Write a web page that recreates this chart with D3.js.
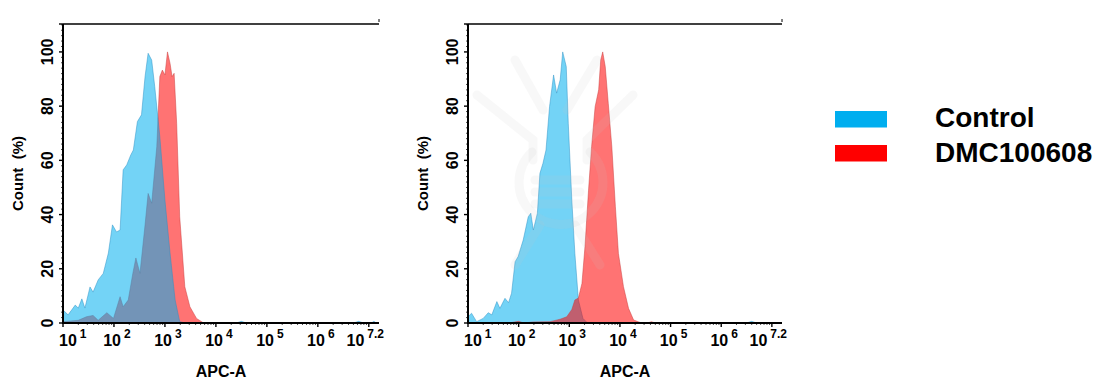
<!DOCTYPE html>
<html>

<head>
  <script src="https://d3js.org/d3.v7.min.js"></script>
  <style>
    body {
      margin: 0;
      background: #fff;
      font-family: 'Liberation Sans', Arial, sans-serif;
      font-weight: bold;
    }

    svg {
      display: block;
    }
  </style>
</head>

<body>
  <svg width="1113" height="389"></svg>
</body>
<script>

  // x values are log10(APC-A), y values are Count (%)
  var xTickExps = [1, 2, 3, 4, 5, 6, 7.2];
  var yTicks = [0, 20, 40, 60, 80, 100];
  var seriesNames = ["Control", "DMC100608"];
  var seriesColors = ["#00AEEF", "#FF0000"];

  var leftCtrlExp = [1.0, 1.1, 1.24, 1.3, 1.37, 1.43, 1.53, 1.59, 1.69, 1.79, 1.89, 1.97, 2.05, 2.12, 2.18, 2.25, 2.33, 2.38, 2.46, 2.54, 2.61, 2.67, 2.74, 2.8, 2.9, 3.0, 3.1, 3.2, 3.29, 3.4, 4.4, 4.5, 4.6, 6.7, 6.8, 6.9, 7.05, 7.1, 7.15];
  var leftCtrlPct = [4.8, 3.0, 6.6, 5.5, 8.9, 5.5, 13.3, 11.4, 15.9, 18.3, 25.8, 36.2, 33.6, 34.3, 56.5, 58.3, 62, 63.8, 74.3, 76.8, 90.9, 99.5, 97, 87.2, 68.7, 45.4, 25.8, 8.5, 0.5, 0, 0, 0.6, 0, 0, 0.6, 0, 0, 0.6, 0];

  var leftDmcExp = [1.0, 1.3, 1.46, 1.59, 1.69, 1.86, 1.99, 2.12, 2.18, 2.28, 2.37, 2.43, 2.51, 2.61, 2.67, 2.74, 2.84, 2.9, 2.95, 3.0, 3.05, 3.1, 3.14, 3.18, 3.23, 3.29, 3.39, 3.49, 3.62, 3.75];
  var leftDmcPct = [0.5, 1.0, 2.3, 2.8, 1.0, 3.8, 1.7, 9.7, 6.0, 8.5, 18.3, 24.0, 18.3, 36.2, 47.8, 44.2, 65, 90.9, 93.3, 91.5, 100, 95.8, 90.9, 92.1, 73.7, 39.2, 13.4, 6.0, 1.7, 0.1];

  var rightCtrlExp = [1.0, 1.07, 1.17, 1.3, 1.4, 1.47, 1.57, 1.63, 1.73, 1.8, 1.86, 1.93, 1.99, 2.09, 2.19, 2.24, 2.29, 2.37, 2.42, 2.48, 2.54, 2.61, 2.69, 2.75, 2.82, 2.87, 2.94, 2.98, 3.05, 3.11, 3.18, 3.27, 3.35, 6.5, 6.6, 6.7];
  var rightCtrlPct = [2.3, 3.6, 0.5, 1.7, 3.8, 3.0, 7.9, 5.4, 9.1, 7.5, 11.0, 22.6, 24.5, 30.6, 39.2, 40.5, 34.3, 40.5, 55.2, 58.9, 63.8, 79.8, 91.5, 84.8, 89.7, 100, 94.6, 73.7, 45.4, 25.7, 8.5, 1.7, 0.2, 0, 0.6, 0];

  var rightDmcExp = [1.8, 2.0, 2.1, 2.3, 2.62, 2.82, 2.95, 3.05, 3.11, 3.18, 3.25, 3.31, 3.38, 3.44, 3.51, 3.58, 3.62, 3.66, 3.71, 3.77, 3.84, 3.91, 3.97, 4.07, 4.17, 4.27, 4.4, 4.55, 4.62, 4.7];
  var rightDmcPct = [0, 0.6, 0, 0.4, 0.5, 1.4, 2.3, 5.0, 8.5, 9.2, 14.6, 28.2, 49, 65, 79.8, 86, 97, 100, 94.6, 81, 65, 43, 25.7, 13.4, 5.4, 1.1, 0.2, 0, 0.5, 0];

  var svg = d3.select("svg");
  var plotTop = 24, plotBottom = 323;

  var panels = [
    { x0: 63, x1: 379, ctrl: [leftCtrlExp, leftCtrlPct], dmc: [leftDmcExp, leftDmcPct], ctrlOnTop: true, mark: false },
    { x0: 468, x1: 782, ctrl: [rightCtrlExp, rightCtrlPct], dmc: [rightDmcExp, rightDmcPct], ctrlOnTop: false, mark: true }
  ];

  function pairs(s) {
    return s[0].map(function (e, i) { return { e: e, p: s[1][i] }; });
  }

  var y = d3.scaleLinear().domain([0, 110.3]).range([plotBottom, plotTop]);

  panels.forEach(function (pn) {
    var x = d3.scaleLog().domain([10, Math.pow(10, 7.2)]).range([pn.x0, pn.x1]);
    var g = svg.append("g");

    var area = d3.area()
      .x(function (d) { return x(Math.pow(10, d.e)); })
      .y0(y(0))
      .y1(function (d) { return y(d.p); });

    var layers = [
      { data: pairs(pn.ctrl), color: seriesColors[0], edge: "#2a8fc4" },
      { data: pairs(pn.dmc), color: seriesColors[1], edge: "#c83a3a" }
    ];
    if (pn.ctrlOnTop) layers.reverse();

    layers.forEach(function (l) {
      g.append("path")
        .datum(l.data)
        .attr("d", area)
        .attr("fill", l.color)
        .attr("fill-opacity", 0.55)
        .attr("stroke", l.edge)
        .attr("stroke-opacity", 0.6)
        .attr("stroke-width", 0.8);
    });

    // faint logo watermark (right panel)
    if (pn.mark) {
      var wm = g.append("g")
        .attr("fill", "none")
        .attr("stroke", "rgba(200,200,200,0.12)")
        .attr("stroke-width", 9)
        .attr("stroke-linecap", "round");
      wm.append("path").attr("d", "M477,95 L533,140 L533,160");
      wm.append("path").attr("d", "M633,95 L587,140 L587,160");
      wm.append("path").attr("d", "M515,60 L543,110");
      wm.append("path").attr("d", "M597,60 L567,110");
      wm.append("path").attr("d", "M532,152 A42,42 0 1 0 590,152");
      [180, 192, 204].forEach(function (yy) {
        wm.append("path").attr("d", "M535," + yy + " L580," + yy);
      });
      wm.append("path").attr("d", "M540,225 L515,265");
      wm.append("path").attr("d", "M575,225 L600,265");
    }

    // frame: top line, left axis, bottom axis
    var ax = g.append("g").attr("stroke", "#000").attr("fill", "none");
    ax.append("line").attr("x1", pn.x0).attr("x2", pn.x1).attr("y1", plotTop).attr("y2", plotTop).attr("stroke-width", 1.6);
    ax.append("line").attr("x1", pn.x1).attr("x2", pn.x1).attr("y1", plotTop - 5).attr("y2", plotTop - 2).attr("stroke-width", 1);
    ax.append("line").attr("x1", pn.x0).attr("x2", pn.x0).attr("y1", plotTop).attr("y2", plotBottom + 1).attr("stroke-width", 2);
    ax.append("line").attr("x1", pn.x0 - 1).attr("x2", pn.x1).attr("y1", plotBottom).attr("y2", plotBottom).attr("stroke-width", 2);

    // y ticks
    d3.range(0, 111, 2).forEach(function (v) {
      var major = v % 20 === 0;
      ax.append("line").attr("x1", pn.x0).attr("x2", pn.x0 - (major ? 4 : 2))
        .attr("y1", y(v)).attr("y2", y(v)).attr("stroke-width", major ? 1.4 : 0.7);
    });
    ax.append("line").attr("x1", pn.x0).attr("x2", pn.x0 - 4).attr("y1", plotTop).attr("y2", plotTop).attr("stroke-width", 1.4);

    // x ticks (decades and minor log ticks)
    for (var d = 1; d <= 7; d++) {
      for (var m = 1; m <= 9; m++) {
        var v = m * Math.pow(10, d);
        if (v > Math.pow(10, 7.2)) break;
        ax.append("line").attr("x1", x(v)).attr("x2", x(v))
          .attr("y1", plotBottom).attr("y2", plotBottom + (m === 1 ? 4 : 2))
          .attr("stroke-width", m === 1 ? 1.4 : 0.7);
      }
    }

    // y tick labels
    yTicks.forEach(function (t) {
      g.append("text")
        .attr("transform", "translate(" + (pn.x0 - 10) + "," + y(t) + ") rotate(-90)")
        .attr("text-anchor", "middle")
        .attr("font-size", 16)
        .text(t);
    });

    // x tick labels 10^n
    xTickExps.forEach(function (e, i) {
      var t = g.append("text")
        .attr("y", 346)
        .attr("font-size", 16);
      var px = x(Math.pow(10, e));
      if (i === 0) t.attr("x", px - 4).attr("text-anchor", "start");
      else if (i === xTickExps.length - 1) t.attr("x", px + 5).attr("text-anchor", "end");
      else t.attr("x", px + 3).attr("text-anchor", "middle");
      t.append("tspan").text("10");
      t.append("tspan").attr("dy", -8).attr("dx", 3).attr("font-size", 12).text(e);
    });

    // axis titles
    g.append("text")
      .attr("x", (pn.x0 + pn.x1) / 2)
      .attr("y", 377)
      .attr("text-anchor", "middle")
      .attr("font-size", 16)
      .text("APC-A");

    g.append("text")
      .attr("transform", "translate(" + (pn.x0 - 40) + "," + ((plotTop + plotBottom) / 2) + ") rotate(-90)")
      .attr("text-anchor", "middle")
      .attr("font-size", 15)
      .style("white-space", "pre")
      .text("Count  (%)");
  });

  // legend
  var legend = svg.append("g");
  seriesNames.forEach(function (name, i) {
    legend.append("rect")
      .attr("x", 835).attr("y", 111 + i * 34)
      .attr("width", 52).attr("height", 16.5)
      .attr("fill", seriesColors[i]);
    legend.append("text")
      .attr("x", 935).attr("y", 127 + i * 35)
      .attr("font-size", 28)
      .text(name);
  });

</script>

</html>
